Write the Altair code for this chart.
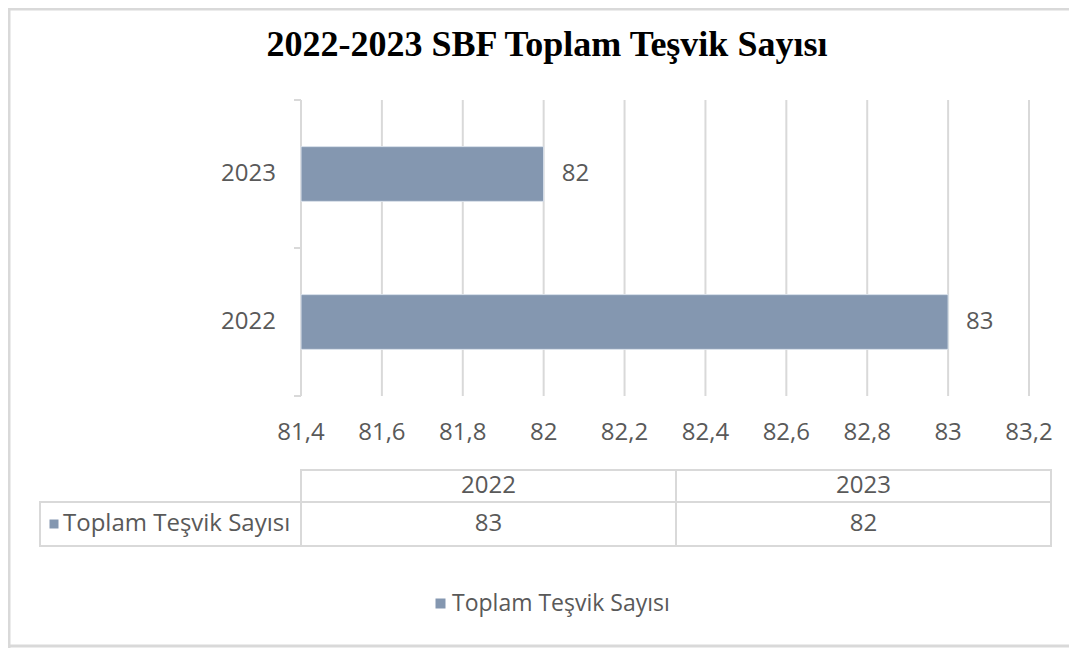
import altair as alt
import pandas as pd

# ---- data ----
years = ["2023", "2022"]            # bar categories, top to bottom
values = [82, 83]                   # Toplam Teşvik Sayısı
table_years = ["2022", "2023"]      # data table columns
table_values = [83, 82]
series_name = "Toplam Teşvik Sayısı"
title_text = "2022-2023 SBF Toplam Teşvik Sayısı"
tick_values = [81.4, 81.6, 81.8, 82.0, 82.2, 82.4, 82.6, 82.8, 83.0, 83.2]
tick_labels = ["81,4", "81,6", "81,8", "82", "82,2", "82,4", "82,6", "82,8", "83", "83,2"]

BAR = "#8497B0"
GRID = "#d9d9d9"
TXT = "#595959"
FONT = "Open Sans"
FS = 24

bars_df = pd.DataFrame({"year": years, "val": values, "series": [series_name] * len(years)})
ticks_df = pd.DataFrame({"t": tick_values, "lab": tick_labels})
table_df = pd.DataFrame({"year": table_years, "val": table_values})
name_df = pd.DataFrame({"series": [series_name]})
title_df = pd.DataFrame({"t": [title_text]})


def xs():
    return alt.Scale(domain=[81.4, 83.2], range=[293, 1021], zero=False, nice=False)


def ys():
    return alt.Scale(domain=years, range=[92, 388], paddingInner=0.63, paddingOuter=0.315)


def ts():
    return alt.Scale(domain=table_years, range=[293, 1043], paddingInner=0, paddingOuter=0)


one = pd.DataFrame({"k": [0]})

# frame
frame = alt.layer(
    alt.Chart(one).mark_rule(color=GRID, strokeWidth=3).encode(x=alt.value(1), y=alt.value(0), y2=alt.value(640)),
    alt.Chart(one).mark_rule(color=GRID, strokeWidth=3).encode(x=alt.value(0), x2=alt.value(1061), y=alt.value(1)),
    alt.Chart(one).mark_rule(color=GRID, strokeWidth=3).encode(x=alt.value(0), x2=alt.value(1061), y=alt.value(638)),
)

title = alt.Chart(title_df).mark_text(
    font="Liberation Serif", fontWeight="bold", fontSize=36, color="black", align="center", baseline="alphabetic"
).encode(x=alt.value(539), y=alt.value(48), text="t:N")

grid = alt.Chart(ticks_df).mark_rule(color=GRID, strokeWidth=2).encode(
    x=alt.X("t:Q", scale=xs(), axis=None), y=alt.value(92), y2=alt.value(388)
)

yaxis = alt.layer(
    alt.Chart(one).mark_rule(color=GRID, strokeWidth=2).encode(x=alt.value(293), y=alt.value(92), y2=alt.value(388)),
    alt.Chart(one).mark_rule(color=GRID, strokeWidth=2).encode(x=alt.value(286), x2=alt.value(293), y=alt.value(92)),
    alt.Chart(one).mark_rule(color=GRID, strokeWidth=2).encode(x=alt.value(286), x2=alt.value(293), y=alt.value(240)),
    alt.Chart(one).mark_rule(color=GRID, strokeWidth=2).encode(x=alt.value(286), x2=alt.value(293), y=alt.value(388)),
)

bars = alt.Chart(bars_df).mark_bar(stroke="#dce3ec", strokeWidth=1).encode(
    x=alt.X("val:Q", scale=xs(), axis=None),
    x2=alt.datum(81.4),
    y=alt.Y("year:N", scale=ys(), axis=None),
    color=alt.Color(
        "series:N",
        scale=alt.Scale(range=[BAR]),
        legend=alt.Legend(
            orient="none", legendX=421, legendY=584, title=None, symbolType="square", symbolSize=100,
            symbolStrokeWidth=0, labelFont=FONT, labelFontSize=23, labelColor=TXT, labelOffset=0,
            labelLimit=0, padding=0,
        ),
    ),
)

val_labels = alt.Chart(bars_df).mark_text(
    align="left", baseline="middle", dx=18, font=FONT, fontSize=FS, color=TXT
).encode(x=alt.X("val:Q", scale=xs(), axis=None), y=alt.Y("year:N", scale=ys(), axis=None), text=alt.Text("val:Q", format="d"))

y_labels = alt.Chart(bars_df).mark_text(
    align="right", baseline="middle", font=FONT, fontSize=FS, color=TXT
).encode(x=alt.value(268), y=alt.Y("year:N", scale=ys(), axis=None), text="year:N")

x_labels = alt.Chart(ticks_df).mark_text(
    align="center", baseline="middle", font=FONT, fontSize=FS, color=TXT
).encode(x=alt.X("t:Q", scale=xs(), axis=None), y=alt.value(425), text="lab:N")

# data table
head_cells = alt.Chart(table_df).mark_rect(fill="white", stroke=GRID, strokeWidth=2).encode(
    x=alt.X("year:N", scale=ts(), axis=None), y=alt.value(462), y2=alt.value(494)
)
val_cells = alt.Chart(table_df).mark_rect(fill="white", stroke=GRID, strokeWidth=2).encode(
    x=alt.X("year:N", scale=ts(), axis=None), y=alt.value(494), y2=alt.value(538)
)
name_cell = alt.Chart(name_df).mark_rect(fill="white", stroke=GRID, strokeWidth=2).encode(
    x=alt.value(32), x2=alt.value(293), y=alt.value(494), y2=alt.value(538)
)
head_text = alt.Chart(table_df).mark_text(baseline="middle", font=FONT, fontSize=FS, color=TXT).encode(
    x=alt.X("year:N", scale=ts(), axis=None), y=alt.value(478), text="year:N"
)
val_text = alt.Chart(table_df).mark_text(baseline="middle", font=FONT, fontSize=FS, color=TXT).encode(
    x=alt.X("year:N", scale=ts(), axis=None), y=alt.value(516), text="val:Q"
)
name_sym = alt.Chart(name_df).mark_square(size=81, color=BAR, opacity=1).encode(x=alt.value(46), y=alt.value(516))
name_text = alt.Chart(name_df).mark_text(align="left", baseline="middle", font=FONT, fontSize=FS, color=TXT).encode(
    x=alt.value(55), y=alt.value(516), text="series:N"
)

chart = alt.layer(
    frame, title, grid, yaxis, bars, val_labels, y_labels, x_labels,
    head_cells, val_cells, name_cell, head_text, val_text, name_sym, name_text,
).resolve_scale(x="independent").properties(
    width=1061, height=640, autosize=alt.AutoSizeParams(type="none"), padding=0
).configure_view(stroke=None).configure(background="white")

chart.save("out.html", embed_options={"renderer": "svg", "actions": False})
